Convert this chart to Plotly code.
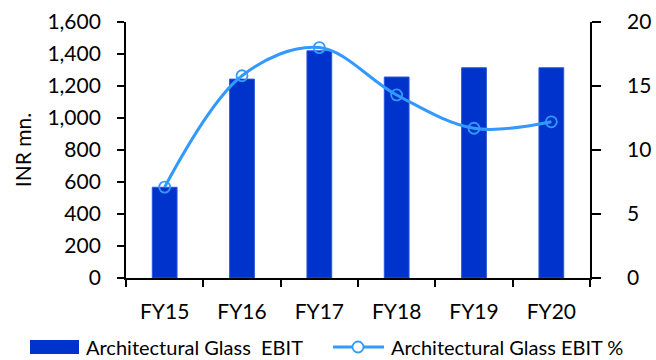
import plotly.graph_objects as go

years = ["FY15", "FY16", "FY17", "FY18", "FY19", "FY20"]
ebit = [567, 1243, 1420, 1256, 1314, 1314]
ebit_pct = [7.1, 15.8, 18.0, 14.3, 11.7, 12.2]

bar_name = "Architectural Glass  EBIT"
line_name = "Architectural Glass EBIT %"

BAR_COLOR = "#0033CC"
LINE_COLOR = "#3399FF"
FONT = "Lato"

W, H = 656, 360
ML, MR, MT, MB = 126, 66, 22, 82

fig = go.Figure()
fig.add_trace(go.Bar(
    x=years, y=ebit, name=bar_name,
    marker=dict(color=BAR_COLOR, line=dict(color="#2a55dd", width=1)),
    yaxis="y", showlegend=False,
))
fig.add_trace(go.Scatter(
    x=years, y=ebit_pct, name=line_name, mode="lines+markers",
    line=dict(color=LINE_COLOR, width=3, shape="spline", smoothing=1.0),
    marker=dict(symbol="circle-open", size=11, color=LINE_COLOR,
                line=dict(width=1.8, color=LINE_COLOR)),
    yaxis="y2", showlegend=False, cliponaxis=False,
))

axis_font = dict(family=FONT, size=21, color="#000000")

fig.update_layout(
    width=W, height=H,
    margin=dict(l=ML, r=MR, t=MT, b=MB, autoexpand=False),
    paper_bgcolor="white", plot_bgcolor="white",
    bargap=0.68,
    font=axis_font,
    xaxis=dict(
        type="category", showgrid=False, showline=True, linecolor="black",
        linewidth=1.8, ticks="outside", tickson="boundaries", ticklen=7,
        tickwidth=1.8, tickcolor="black", tickfont=axis_font,
        ticklabelstandoff=14, automargin=False,
    ),
    yaxis=dict(
        range=[0, 1600], dtick=200, tickformat=",", showgrid=False,
        showline=True, linecolor="black", linewidth=1.8, ticks="outside",
        ticklen=7, tickwidth=1.8, tickcolor="black", tickfont=axis_font,
        ticklabelstandoff=12, zeroline=False, automargin=False,
        title=dict(text="INR mn.", font=axis_font, standoff=10),
    ),
    yaxis2=dict(
        range=[0, 20], dtick=5, overlaying="y", side="right", showgrid=False,
        showline=True, linecolor="black", linewidth=1.8, ticks="outside",
        ticklen=9, tickwidth=1.8, tickcolor="black", tickfont=axis_font,
        ticklabelstandoff=22, zeroline=False, automargin=False,
    ),
)

# Custom legend along the bottom of the chart
leg_y = (H - MB - 347) / (H - MT - MB)


def px_x(p):
    return (p - ML) / (W - ML - MR)


fig.add_shape(type="rect", xref="paper", yref="paper",
              xsizemode="pixel", ysizemode="pixel",
              xanchor=px_x(30), yanchor=leg_y,
              x0=0, x1=49, y0=-7, y1=7,
              fillcolor=BAR_COLOR, line=dict(width=0))
fig.add_annotation(text=bar_name, xref="paper", yref="paper",
                   x=px_x(84), y=leg_y, xanchor="left", yanchor="middle",
                   showarrow=False, font=dict(family=FONT, size=20, color="black"))

fig.add_shape(type="line", xref="paper", yref="paper",
              xsizemode="pixel", ysizemode="pixel",
              xanchor=px_x(333), yanchor=leg_y,
              x0=0, x1=51, y0=0, y1=0,
              line=dict(color=LINE_COLOR, width=3))
fig.add_shape(type="circle", xref="paper", yref="paper",
              xsizemode="pixel", ysizemode="pixel",
              xanchor=px_x(358), yanchor=leg_y,
              x0=-5.5, x1=5.5, y0=-5.5, y1=5.5,
              fillcolor="white", line=dict(color=LINE_COLOR, width=1.8))
fig.add_annotation(text=line_name, xref="paper", yref="paper",
                   x=px_x(389), y=leg_y, xanchor="left", yanchor="middle",
                   showarrow=False, font=dict(family=FONT, size=20, color="black"))

fig.write_html("out.html")
